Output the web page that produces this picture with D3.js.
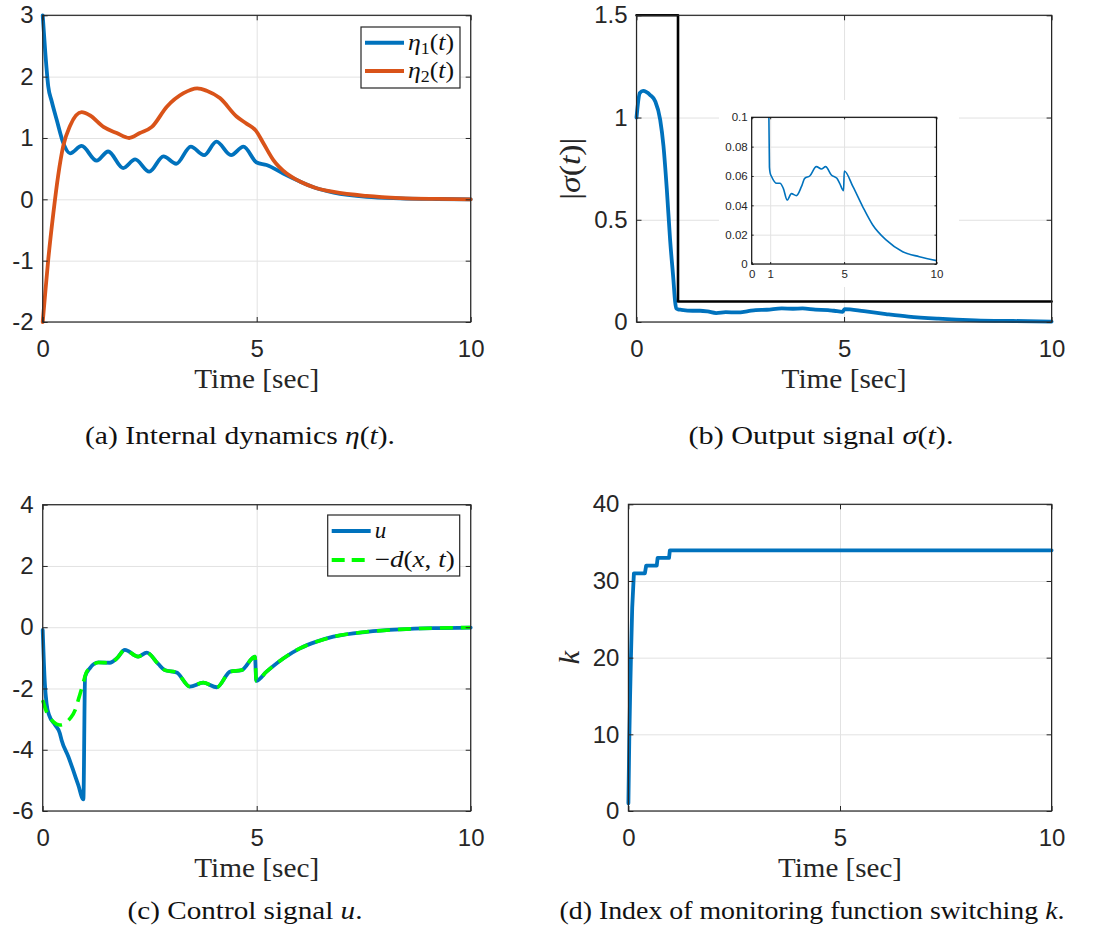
<!DOCTYPE html>
<html><head><meta charset="utf-8">
<script src="https://cdn.jsdelivr.net/npm/d3@7"></script>
<style>
body{margin:0;background:#fff;}
svg{display:block;}
</style></head><body>
<svg id="chart" width="1093" height="936"></svg>
<script>
// ---------------- DATA ----------------
const xTicks = [0, 5, 10];
const yTicksA = [-2, -1, 0, 1, 2, 3];
const yTicksB = [0, 0.5, 1, 1.5];
const yTicksC = [-6, -4, -2, 0, 2, 4];
const yTicksD = [0, 10, 20, 30, 40];
const insetXTicks = [0, 1, 5, 10];
const insetYTicks = [0, 0.02, 0.04, 0.06, 0.08, 0.1];

// (a) internal dynamics
const eta1Time = [0, 0.06, 0.13, 0.21, 0.33, 0.48, 0.64, 0.91, 1.26, 1.53, 1.88, 2.16, 2.49, 2.82, 3.12, 3.46, 3.77, 4.06, 4.40, 4.69, 5.0, 5.23, 5.62, 6.01, 6.40, 6.80, 7.57, 8.35, 9.2, 10];
const eta1Val  = [3.0, 2.4, 1.84, 1.6, 1.29, 0.92, 0.75, 0.87, 0.63, 0.78, 0.51, 0.65, 0.45, 0.70, 0.58, 0.86, 0.72, 0.94, 0.72, 0.86, 0.60, 0.56, 0.42, 0.29, 0.18, 0.11, 0.04, 0.016, 0.005, 0.0];
const eta2Time = [0, 0.05, 0.13, 0.25, 0.36, 0.48, 0.64, 0.91, 1.1, 1.42, 1.73, 2.02, 2.27, 2.55, 2.9, 3.29, 3.61, 3.83, 4.14, 4.53, 4.77, 4.98, 5.16, 5.39, 5.7, 6.01, 6.4, 6.8, 7.57, 8.35, 9.2, 10];
const eta2Val  = [-2.0, -1.6, -0.98, -0.22, 0.38, 0.87, 1.2, 1.42, 1.37, 1.18, 1.08, 1.0, 1.08, 1.18, 1.51, 1.73, 1.81, 1.77, 1.65, 1.35, 1.23, 1.12, 0.91, 0.64, 0.42, 0.29, 0.18, 0.12, 0.055, 0.02, 0.006, 0.0];

// (b) output signal
const sigmaTime = [0, 0.08, 0.16, 0.33, 0.45, 0.57, 0.65, 0.73, 0.81, 0.89, 0.93, 0.96, 1.0, 1.08, 1.35, 1.53, 1.71, 1.92, 2.15, 2.42, 2.69, 2.87, 3.14, 3.5, 3.77, 4.0, 4.31, 4.61, 4.76, 4.97, 5.01, 5.48, 6.01, 6.55, 7.27, 8.17, 9.07, 10];
const sigmaVal  = [1.0, 1.12, 1.13, 1.11, 1.08, 0.99, 0.86, 0.65, 0.40, 0.205, 0.10, 0.066, 0.062, 0.0595, 0.055, 0.055, 0.0516, 0.0436, 0.048, 0.0466, 0.0527, 0.0584, 0.060, 0.0664, 0.0648, 0.0664, 0.0607, 0.0584, 0.055, 0.050, 0.0634, 0.0527, 0.039, 0.0266, 0.0164, 0.0084, 0.005, 0.0023];
const thrTime = [0, 1, 10];
const thrVal  = [1.5, 0.1, 0.1];

// (c) control signal
const uTime = [0, 0.05, 0.09, 0.15, 0.29, 0.40, 0.44, 0.60, 0.71, 0.83, 0.95, 0.99, 1.10, 1.30, 1.57, 1.73, 1.92, 2.23, 2.43, 2.70, 2.85, 3.13, 3.44, 3.75, 4.07, 4.38, 4.65, 4.96, 4.99, 5.23, 5.62, 6.01, 6.40, 6.79, 7.57, 8.35, 9.13, 10];
const uVal  = [-0.09, -1.83, -2.49, -2.87, -3.19, -3.46, -3.68, -4.23, -4.66, -5.15, -5.62, -1.62, -1.34, -1.15, -1.16, -1.02, -0.74, -0.96, -0.83, -1.2, -1.40, -1.48, -1.94, -1.81, -1.96, -1.45, -1.40, -0.96, -1.75, -1.45, -1.02, -0.69, -0.47, -0.31, -0.15, -0.07, -0.03, -0.01];
const dTime = [0, 0.09, 0.25, 0.40, 0.64, 0.76, 0.83, 0.91, 1.03, 1.10, 1.30, 1.57, 1.73, 1.92, 2.23, 2.43, 2.70, 2.85, 3.13, 3.44, 3.75, 4.07, 4.38, 4.65, 4.96, 4.99, 5.23, 5.62, 6.01, 6.40, 6.79, 7.57, 8.35, 9.13, 10];
const dVal  = [-2.38, -2.76, -3.09, -3.19, -2.98, -2.70, -2.38, -2.0, -1.45, -1.34, -1.15, -1.16, -1.02, -0.74, -0.96, -0.83, -1.2, -1.40, -1.48, -1.94, -1.81, -1.96, -1.45, -1.40, -0.96, -1.75, -1.45, -1.02, -0.69, -0.47, -0.31, -0.15, -0.07, -0.03, -0.01];

// (d) switching index
const kTime = [0, 0.02, 0.04, 0.06, 0.09, 0.13, 0.39, 0.42, 0.67, 0.69, 0.96, 0.98, 10];
const kVal  = [1, 9, 15, 20, 26.5, 31, 31, 32, 32, 33, 33, 34, 34];

// ---------------- STYLE ----------------
const svg = d3.select("#chart");
const SANS = "'Liberation Sans', Arial, Helvetica, sans-serif";
const SERIF = "'Liberation Serif', 'Times New Roman', serif";
const AX = "#262626", GRID = "#e2e2e2";
const BLUE = "#0072BD", ORANGE = "#D95319", GREEN = "#00ff00";

function makePanel(box, xDom, yDom, xt, yt, o) {
  const x = d3.scaleLinear().domain(xDom).range([box.l, box.r]);
  const y = d3.scaleLinear().domain(yDom).range([box.b, box.t]);
  const g = svg.append("g");
  const W = box.r - box.l, H = box.b - box.t;
  if (o.bg) g.append("rect").attr("x", o.bg.x).attr("y", o.bg.y).attr("width", o.bg.w).attr("height", o.bg.h).attr("fill", "#fff");
  // grid
  g.append("g").attr("transform", `translate(0,${box.b})`)
    .call(d3.axisBottom(x).tickValues(xt).tickSize(-H).tickFormat(""))
    .call(s => { s.select(".domain").remove(); s.selectAll("line").attr("stroke", GRID).attr("stroke-width", 1); });
  g.append("g").attr("transform", `translate(${box.l},0)`)
    .call(d3.axisLeft(y).tickValues(yt).tickSize(-W).tickFormat(""))
    .call(s => { s.select(".domain").remove(); s.selectAll("line").attr("stroke", GRID).attr("stroke-width", 1); });
  const marks = g.append("g");
  const frame = g.append("g");
  return { x, y, g, marks, frame, box };
}

function drawFrame(p, xt, yt, o) {
  const { x, y, box, frame } = p;
  const tl = o.tick;
  const style = s => {
    s.select(".domain").remove();
    s.selectAll("line").attr("stroke", AX).attr("stroke-width", 1);
    s.selectAll("text").attr("fill", AX).attr("font-family", SANS).attr("font-size", o.fs);
  };
  frame.append("g").attr("transform", `translate(0,${box.b})`)
    .call(d3.axisBottom(x).tickValues(xt).tickSize(-tl).tickSizeOuter(0).tickPadding(o.padX).tickFormat(o.fmtX || d3.format("")))
    .call(style);
  frame.append("g").attr("transform", `translate(0,${box.t})`)
    .call(d3.axisTop(x).tickValues(xt).tickSize(-tl).tickSizeOuter(0).tickFormat(""))
    .call(style);
  frame.append("g").attr("transform", `translate(${box.l},0)`)
    .call(d3.axisLeft(y).tickValues(yt).tickSize(-tl).tickSizeOuter(0).tickPadding(o.padY).tickFormat(o.fmtY || (d => String(d))))
    .call(style);
  frame.append("g").attr("transform", `translate(${box.r},0)`)
    .call(d3.axisRight(y).tickValues(yt).tickSize(-tl).tickSizeOuter(0).tickFormat(""))
    .call(style);
  frame.append("rect").attr("x", box.l).attr("y", box.t).attr("width", box.r - box.l).attr("height", box.b - box.t)
    .attr("fill", "none").attr("stroke", AX).attr("stroke-width", o.sw || 1.2);
}

function line(p, t, v, color, width, opts = {}) {
  const gen = d3.line().x(d => p.x(d[0])).y(d => p.y(d[1])).curve(opts.curve || d3.curveMonotoneX);
  const path = (opts.target || p.marks).append("path").datum(d3.zip(t, v))
    .attr("d", gen).attr("fill", "none").attr("stroke", color).attr("stroke-width", width)
    .attr("stroke-linejoin", "round").attr("stroke-linecap", opts.dash ? "butt" : "round");
  if (opts.dash) path.attr("stroke-dasharray", opts.dash);
  if (opts.clip) path.attr("clip-path", `url(#${opts.clip})`);
  return path;
}

function rich(sel, parts) {
  parts.forEach(pt => {
    const ts = sel.append("tspan").text(pt.t);
    if (pt.i) ts.attr("font-style", "italic");
    if (pt.sub) ts.attr("font-size", pt.fs).attr("dy", pt.dy);
    if (pt.up) ts.attr("dy", pt.up);
  });
  return sel;
}

function xLabel(p, len) {
  const b = p.box;
  svg.append("text").attr("x", (b.l + b.r) / 2).attr("y", b.b + 66).attr("text-anchor", "middle")
    .attr("font-family", SERIF).attr("font-size", 28).attr("fill", AX)
    .attr("textLength", len).attr("lengthAdjust", "spacingAndGlyphs").text("Time [sec]");
}

function caption(cx, y, len, parts) {
  const t = svg.append("text").attr("x", cx).attr("y", y).attr("text-anchor", "middle")
    .attr("font-family", SERIF).attr("font-size", 25).attr("fill", "#111")
    .attr("textLength", len).attr("lengthAdjust", "spacingAndGlyphs");
  rich(t, parts);
}

function legend(rect, rows) {
  const g = svg.append("g");
  g.append("rect").attr("x", rect.x).attr("y", rect.y).attr("width", rect.w).attr("height", rect.h)
    .attr("fill", "#fff").attr("stroke", AX).attr("stroke-width", 1.2);
  rows.forEach(r => {
    const ln = g.append("line").attr("x1", rect.x + 4).attr("x2", rect.x + 43).attr("y1", r.y).attr("y2", r.y)
      .attr("stroke", r.color).attr("stroke-width", 4);
    if (r.dash) ln.attr("stroke-dasharray", r.dash);
    const t = g.append("text").attr("x", rect.x + 47).attr("y", r.y + 7)
      .attr("font-family", SERIF).attr("font-size", 23).attr("fill", "#111");
    if (r.len) t.attr("textLength", r.len).attr("lengthAdjust", "spacingAndGlyphs");
    rich(t, r.parts);
  });
}

const mainOpts = { tick: 5, fs: 24, padX: 18, padY: 9 };

// ---------------- PANEL A ----------------
const pA = makePanel({ l: 42.7, r: 470.7, t: 15.3, b: 322 }, [0, 10], [-2, 3], xTicks, yTicksA, {});
line(pA, eta1Time, eta1Val, BLUE, 3.8);
line(pA, eta2Time, eta2Val, ORANGE, 3.8);
drawFrame(pA, xTicks, yTicksA, mainOpts);
xLabel(pA, 125);
legend({ x: 361, y: 27, w: 99, h: 61 }, [
  { y: 42.7, color: BLUE, len: 46, parts: [{ t: "η", i: true }, { t: "1", sub: true, fs: 16, dy: 4 }, { t: "(", up: -4 }, { t: "t", i: true }, { t: ")" }] },
  { y: 71, color: ORANGE, len: 46, parts: [{ t: "η", i: true }, { t: "2", sub: true, fs: 16, dy: 4 }, { t: "(", up: -4 }, { t: "t", i: true }, { t: ")" }] }
]);

// ---------------- PANEL B ----------------
const pB = makePanel({ l: 636.5, r: 1051.6, t: 15.3, b: 322 }, [0, 10], [0, 1.5], xTicks, yTicksB, {});
line(pB, sigmaTime, sigmaVal, BLUE, 3.8);
line(pB, thrTime, thrVal, "#000", 2.6, { curve: d3.curveStepAfter });
drawFrame(pB, xTicks, yTicksB, mainOpts);
xLabel(pB, 125);
{
  const t = svg.append("text").attr("transform", "translate(580,168.7) rotate(-90)").attr("text-anchor", "middle")
    .attr("font-family", SERIF).attr("font-size", 29).attr("fill", AX)
    .attr("textLength", 62).attr("lengthAdjust", "spacingAndGlyphs");
  rich(t, [{ t: "|" }, { t: "σ", i: true }, { t: "(" }, { t: "t", i: true }, { t: ")|" }]);
}
// inset
const pI = makePanel({ l: 751.7, r: 936.5, t: 117.3, b: 264 }, [0, 10], [0, 0.1], [1, 5], insetYTicks,
  { bg: { x: 719, y: 100, w: 240, h: 187 } });
svg.append("defs").append("clipPath").attr("id", "insetClip").append("rect")
  .attr("x", 751.7).attr("y", 117.3).attr("width", 936.5 - 751.7).attr("height", 264 - 117.3);
line(pI, sigmaTime, sigmaVal, BLUE, 1.6, { clip: "insetClip" });
drawFrame(pI, insetXTicks, insetYTicks, { tick: 2, fs: 11.5, padX: 6, padY: 4, sw: 1.2, fmtY: d => String(d) });
pI.frame.select("rect").attr("stroke", "#111");

// ---------------- PANEL C ----------------
const pC = makePanel({ l: 42.7, r: 470.7, t: 504.7, b: 811 }, [0, 10], [-6, 4], xTicks, yTicksC, {});
line(pC, uTime, uVal, BLUE, 3.8);
line(pC, dTime, dVal, GREEN, 3.6, { dash: "13,8" });
drawFrame(pC, xTicks, yTicksC, mainOpts);
xLabel(pC, 125);
legend({ x: 327.7, y: 515, w: 132, h: 61 }, [
  { y: 531, color: BLUE, parts: [{ t: "u", i: true }] },
  { y: 560, color: GREEN, dash: "13,7", len: 80, parts: [{ t: "−" }, { t: "d", i: true }, { t: "(" }, { t: "x", i: true }, { t: ", " }, { t: "t", i: true }, { t: ")" }] }
]);

// ---------------- PANEL D ----------------
const pD = makePanel({ l: 628.4, r: 1051.6, t: 504.3, b: 811 }, [0, 10], [0, 40], xTicks, yTicksD, {});
line(pD, kTime, kVal, BLUE, 3.8, { curve: d3.curveLinear });
drawFrame(pD, xTicks, yTicksD, mainOpts);
xLabel(pD, 124);
{
  const t = svg.append("text").attr("transform", "translate(579,657.7) rotate(-90)").attr("text-anchor", "middle")
    .attr("font-family", SERIF).attr("font-size", 30).attr("fill", AX);
  rich(t, [{ t: "k", i: true }]);
}

// ---------------- CAPTIONS ----------------
caption(240, 444, 310, [{ t: "(a) Internal dynamics " }, { t: "η", i: true }, { t: "(" }, { t: "t", i: true }, { t: ")." }]);
caption(821, 444, 265, [{ t: "(b) Output signal " }, { t: "σ", i: true }, { t: "(" }, { t: "t", i: true }, { t: ")." }]);
caption(245, 919, 235, [{ t: "(c) Control signal " }, { t: "u", i: true }, { t: "." }]);
caption(812, 919, 505, [{ t: "(d) Index of monitoring function switching " }, { t: "k", i: true }, { t: "." }]);
</script>
</body></html>
